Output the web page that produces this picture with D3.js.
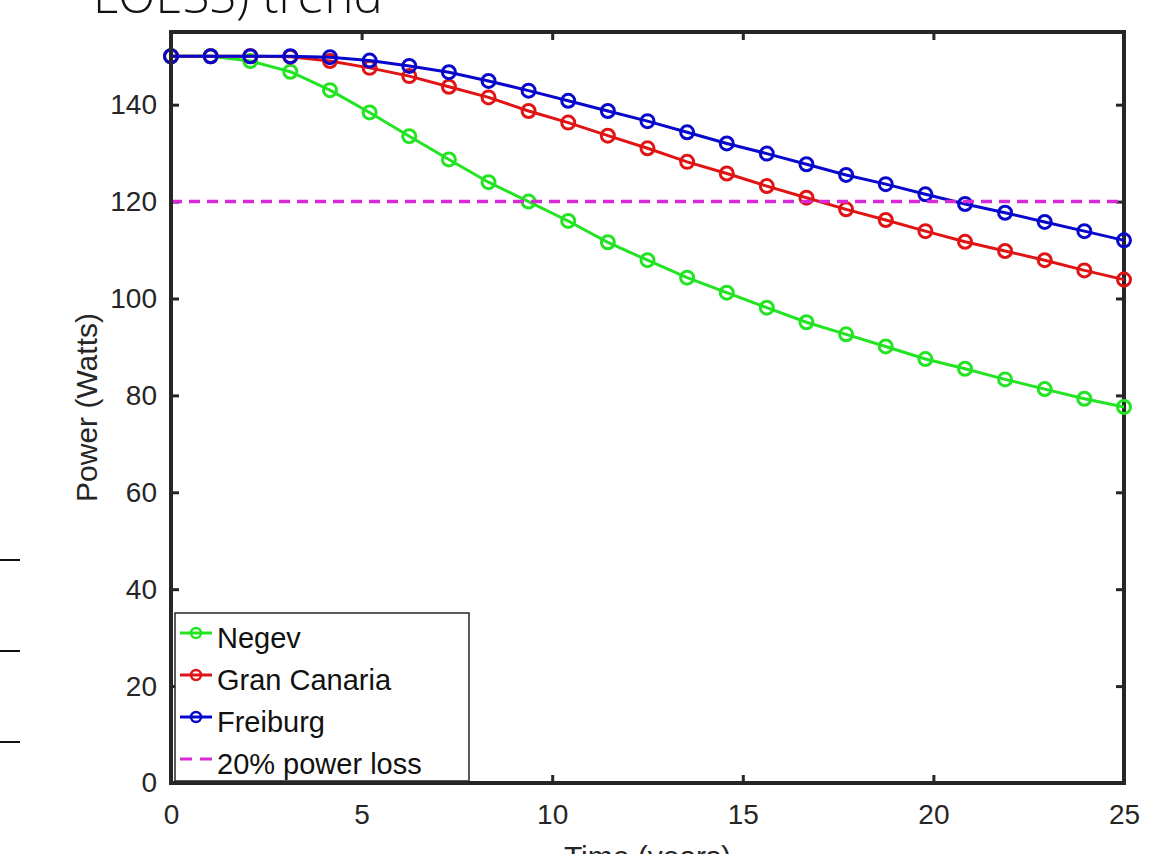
<!DOCTYPE html>
<html>
<head>
<meta charset="utf-8">
<script src="https://cdn.jsdelivr.net/npm/d3@7"></script>
<style>
  body { margin: 0; background: #fff; }
  svg { display: block; }
  .axis text { font-family: "Liberation Sans", Arial, sans-serif; font-size: 28px; fill: #262626; }
  .axis line { stroke: #262626; stroke-width: 3; }
  .axis path { display: none; }
</style>
</head>
<body>
<div id="chart"></div>
<script>
// Chart data
var years = [0, 1.04, 2.08, 3.13, 4.17, 5.21, 6.25, 7.29, 8.33, 9.38, 10.42, 11.46, 12.5,
             13.54, 14.58, 15.63, 16.67, 17.71, 18.75, 19.79, 20.83, 21.88, 22.92, 23.96, 25];
var negev = [150, 150, 149.0, 146.8, 143.0, 138.4, 133.5, 128.7, 124.0, 120.0, 116.0, 111.6, 107.9,
             104.3, 101.2, 98.1, 95.1, 92.6, 90.1, 87.5, 85.5, 83.3, 81.3, 79.3, 77.6];
var granCanaria = [150, 150, 150, 149.9, 149.0, 147.6, 145.9, 143.7, 141.5, 138.7, 136.3, 133.6, 131.0,
                   128.2, 125.8, 123.2, 120.8, 118.4, 116.2, 113.9, 111.7, 109.8, 107.9, 105.8, 103.9];
var freiburg = [150, 150, 150, 150, 149.8, 149.1, 148.0, 146.7, 144.9, 142.9, 140.8, 138.7, 136.6,
                134.3, 132.0, 129.9, 127.7, 125.5, 123.6, 121.5, 119.5, 117.7, 115.8, 113.9, 112.0];
var lossLevel = 120;
var xTicks = [0, 5, 10, 15, 20, 25];
var yTicks = [0, 20, 40, 60, 80, 100, 120, 140];

var series = [
  { name: 'Negev', values: negev, color: '#22e422' },
  { name: 'Gran Canaria', values: granCanaria, color: '#e01414' },
  { name: 'Freiburg', values: freiburg, color: '#0808cc' }
];
var lossColor = '#d62ad6';

var width = 1170, height = 854;
var margin = { left: 171, right: 46, top: 32, bottom: 71 };
var chartWidth = width - margin.left - margin.right;
var chartHeight = height - margin.top - margin.bottom;

var svg = d3.select('#chart').append('svg')
    .attr('width', width)
    .attr('height', height);

// Title, cut off at the top of the picture
svg.append('text')
    .attr('x', 93)
    .attr('y', 13)
    .attr('font-family', '"Open Sans", sans-serif')
    .attr('font-weight', 300)
    .attr('font-size', 49)
    .attr('fill', '#111')
    .text('LOESS) trend');

// Stray dashes on the left edge
svg.selectAll('line.stray').data([560, 651, 742]).enter().append('line')
    .attr('class', 'stray')
    .attr('x1', 0).attr('x2', 20)
    .attr('y1', function(d) { return d; }).attr('y2', function(d) { return d; })
    .attr('stroke', '#111').attr('stroke-width', 2);

var g = svg.append('g')
    .attr('transform', 'translate(' + margin.left + ',' + margin.top + ')');

var xScale = d3.scaleLinear().domain([0, 25]).range([0, chartWidth]);
var yScale = d3.scaleLinear().domain([0, 155]).range([chartHeight, 0]);

// Axes, ticks pointing inwards on all four sides
g.append('g').attr('class', 'axis')
    .attr('transform', 'translate(0,' + chartHeight + ')')
    .call(d3.axisBottom(xScale).tickValues(xTicks).tickSize(-8).tickPadding(21));
g.append('g').attr('class', 'axis')
    .call(d3.axisLeft(yScale).tickValues(yTicks).tickSize(-8).tickPadding(14));
g.append('g').attr('class', 'axis')
    .call(d3.axisTop(xScale).tickValues(xTicks).tickSize(-8).tickFormat(''));
g.append('g').attr('class', 'axis')
    .attr('transform', 'translate(' + chartWidth + ',0)')
    .call(d3.axisRight(yScale).tickValues(yTicks).tickSize(-8).tickFormat(''));

// Box round the plot
g.append('rect')
    .attr('width', chartWidth)
    .attr('height', chartHeight)
    .attr('fill', 'none')
    .attr('stroke', '#262626')
    .attr('stroke-width', 4);

// Axis titles
svg.append('text')
    .attr('transform', 'translate(97,' + (margin.top + chartHeight / 2) + ') rotate(-90)')
    .attr('text-anchor', 'middle')
    .attr('font-family', '"Liberation Sans", Arial, sans-serif')
    .attr('font-size', 30)
    .attr('fill', '#262626')
    .text('Power (Watts)');

svg.append('text')
    .attr('x', margin.left + chartWidth / 2)
    .attr('y', 867)
    .attr('text-anchor', 'middle')
    .attr('font-family', '"Liberation Sans", Arial, sans-serif')
    .attr('font-size', 30)
    .attr('fill', '#262626')
    .text('Time (years)');

// Lines with hollow circle markers
var line = d3.line()
    .x(function(d, i) { return xScale(years[i]); })
    .y(function(d) { return yScale(d); });

series.forEach(function(s) {
  g.append('path')
      .datum(s.values)
      .attr('d', line)
      .attr('fill', 'none')
      .attr('stroke', s.color)
      .attr('stroke-width', 3);

  g.selectAll(null).data(s.values).enter().append('circle')
      .attr('cx', function(d, i) { return xScale(years[i]); })
      .attr('cy', function(d) { return yScale(d); })
      .attr('r', 6.5)
      .attr('fill', 'none')
      .attr('stroke', s.color)
      .attr('stroke-width', 3);
});

// 20% power loss level
g.append('line')
    .attr('x1', xScale(0)).attr('x2', xScale(25))
    .attr('y1', yScale(lossLevel)).attr('y2', yScale(lossLevel))
    .attr('stroke', lossColor)
    .attr('stroke-width', 3.5)
    .attr('stroke-dasharray', '11,7');

// Legend
var legend = svg.append('g').attr('transform', 'translate(175,613)');
legend.append('rect')
    .attr('width', 294)
    .attr('height', 168)
    .attr('fill', '#fff')
    .attr('stroke', '#262626')
    .attr('stroke-width', 1.5);

var entries = series.map(function(s) { return { name: s.name, color: s.color, dashed: false }; });
entries.push({ name: '20% power loss', color: lossColor, dashed: true });

var item = legend.selectAll('g.item').data(entries).enter().append('g')
    .attr('class', 'item')
    .attr('transform', function(d, i) { return 'translate(0,' + (20 + i * 42) + ')'; });

item.append('line')
    .attr('x1', 5).attr('x2', 37)
    .attr('stroke', function(d) { return d.color; })
    .attr('stroke-width', 3)
    .attr('stroke-dasharray', function(d) { return d.dashed ? '12,8' : null; });

item.filter(function(d) { return !d.dashed; }).append('circle')
    .attr('cx', 21)
    .attr('r', 5)
    .attr('fill', 'none')
    .attr('stroke', function(d) { return d.color; })
    .attr('stroke-width', 2.5);

item.append('text')
    .attr('x', 42)
    .attr('y', 15)
    .attr('font-family', '"Liberation Sans", Arial, sans-serif')
    .attr('font-size', 29)
    .attr('fill', '#111')
    .text(function(d) { return d.name; });

// Bottom and left axis lines sit over the legend border
g.append('line')
    .attr('x1', 0).attr('x2', chartWidth)
    .attr('y1', chartHeight).attr('y2', chartHeight)
    .attr('stroke', '#262626').attr('stroke-width', 4);
g.append('line')
    .attr('x1', 0).attr('x2', 0)
    .attr('y1', 0).attr('y2', chartHeight)
    .attr('stroke', '#262626').attr('stroke-width', 4);
</script>
</body>
</html>
